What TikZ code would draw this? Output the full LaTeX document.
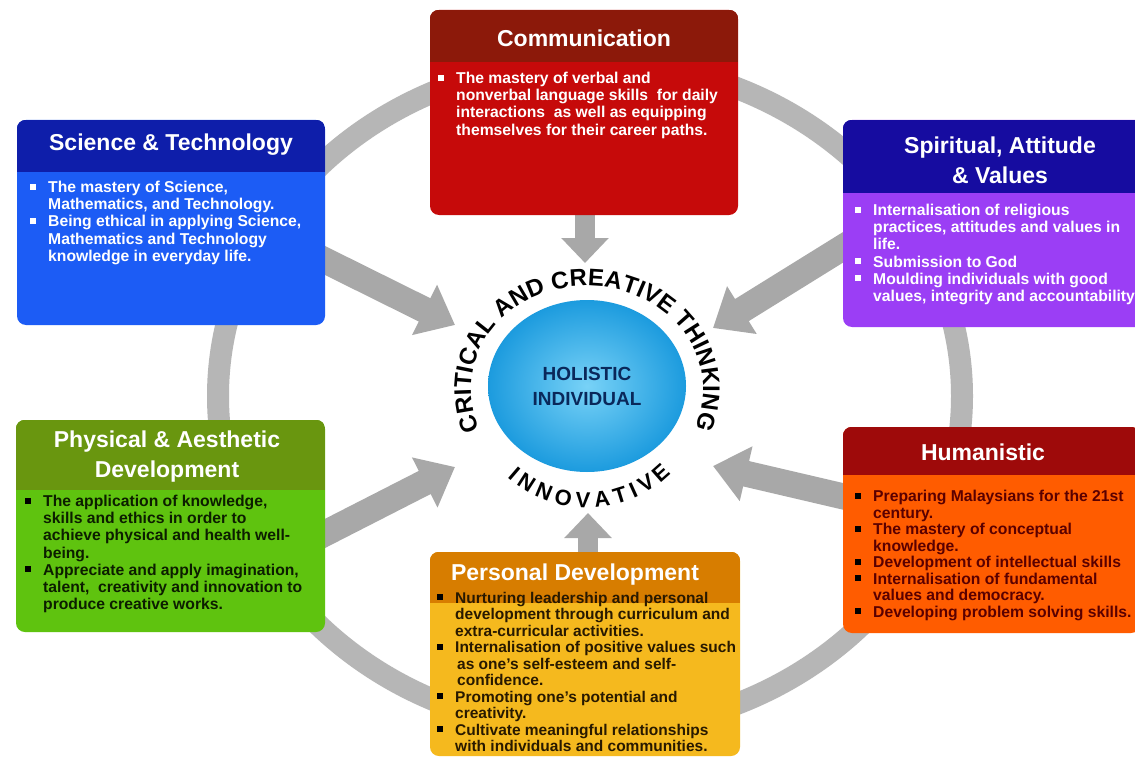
\documentclass[tikz,border=0pt]{standalone}
\usepackage{fontspec}
\setmainfont{Liberation Sans}
\usetikzlibrary{arrows.meta,shapes.geometric,decorations.text,calc}

\definecolor{sciHead}{RGB}{14,30,170}
\definecolor{sciBody}{RGB}{28,92,245}
\definecolor{comHead}{RGB}{140,25,10}
\definecolor{comBody}{RGB}{198,10,10}
\definecolor{spiHead}{RGB}{22,12,160}
\definecolor{spiBody}{RGB}{155,62,245}
\definecolor{phyHead}{RGB}{105,150,15}
\definecolor{phyBody}{RGB}{95,195,15}
\definecolor{humHead}{RGB}{158,10,10}
\definecolor{humBody}{RGB}{255,92,0}
\definecolor{perHead}{RGB}{215,125,0}
\definecolor{perBody}{RGB}{245,185,30}
\definecolor{phyText}{RGB}{12,30,0}
\definecolor{humText}{RGB}{90,0,0}
\definecolor{perText}{RGB}{40,25,0}
\definecolor{ringGrey}{RGB}{182,182,182}
\definecolor{arrGrey}{RGB}{168,168,168}
\definecolor{holIn}{RGB}{120,210,247}
\definecolor{holOut}{RGB}{28,155,222}
\definecolor{holText}{RGB}{10,40,90}

\newcommand\bulW{\makebox[18pt][l]{\raisebox{3pt}{\rule{6pt}{6pt}}}}
\newcommand\bulK{\makebox[18pt][l]{\color{black}\raisebox{3pt}{\rule{6pt}{6pt}}}}
\newcommand\hind{\hspace*{18pt}}
\newcommand\boxhead[3]{\begin{scope}\clip[rounded corners=9pt] (#1.north west) rectangle (#1.south east);
  \fill[#2] (#1.north west) rectangle ([yshift=-#3pt]#1.north east);\end{scope}}

\begin{document}
\begin{tikzpicture}[x=1pt,y=1pt,
  panel/.style={rectangle, rounded corners=9pt, inner sep=0pt, draw=none},
  ttl/.style={text=white, font=\bfseries\fontsize{23}{30}\selectfont, align=center, inner sep=0pt},
  bod/.style={anchor=north west, align=left, inner sep=0pt, font=\bfseries\fontsize{15.7}{17.2}\selectfont},
  bigarrow/.style={draw=arrGrey, line width=26pt, -{Triangle[width=54pt,length=34pt]}},
  smallarrow/.style={draw=arrGrey, line width=20pt, -{Triangle[width=46pt,length=25pt]}}]
\fill[white] (0,0) rectangle (1135,-757);
\useasboundingbox (0,0) rectangle (1135,-757);

% ring
\draw[ringGrey, line width=22pt] (590,-396) ellipse [x radius=372, y radius=335];

% arrow end points
\coordinate (sciS) at (318,-257); \coordinate (sciE) at (455,-325);
\coordinate (spiS) at (850,-243); \coordinate (spiE) at (713,-328);
\coordinate (phyS) at (318,-537); \coordinate (phyE) at (455,-467);
\coordinate (humS) at (850,-498); \coordinate (humE) at (713,-466);
\coordinate (comS) at (585,-205); \coordinate (comE) at (585,-263);
\coordinate (perS) at (588,-560); \coordinate (perE) at (588,-513);

\draw[bigarrow] (sciS) -- (sciE);
\draw[bigarrow] (spiS) -- (spiE);
\draw[bigarrow] (phyS) -- (phyE);
\draw[bigarrow] (humS) -- (humE);
\draw[smallarrow] (comS) -- (comE);
\draw[smallarrow] (perS) -- (perE);

% boxes
\node[panel, fill=sciBody, minimum width=308pt, minimum height=205pt] (sci) at (171,-222.5) {};
\boxhead{sci}{sciHead}{52}
\node[panel, fill=comBody, minimum width=308pt, minimum height=205pt] (com) at (584,-112.5) {};
\boxhead{com}{comHead}{52}
\node[panel, fill=spiBody, minimum width=317pt, minimum height=207pt] (spi) at (1001.5,-223.5) {};
\boxhead{spi}{spiHead}{73}
\node[panel, fill=phyBody, minimum width=309pt, minimum height=212pt] (phy) at (170.5,-526) {};
\boxhead{phy}{phyHead}{70}
\node[panel, fill=humBody, minimum width=297pt, minimum height=206pt] (hum) at (991.5,-530) {};
\boxhead{hum}{humHead}{48}
\node[panel, fill=perBody, minimum width=310pt, minimum height=204pt] (per) at (585,-654) {};
\boxhead{per}{perHead}{51}

% titles
\node[ttl] (sciT) at (171,-145) {Science \& Technology};
\node[ttl] (comT) at (584,-38) {Communication};
\node[ttl] (spiT) at (1000,-160) {Spiritual, Attitude\\\& Values};
\node[ttl] (phyT) at (167,-457) {Physical \& Aesthetic\\Development};
\node[ttl] (humT) at (983,-452) {Humanistic};
\node[ttl] (perT) at (575,-575) {Personal Development};

% bodies
\node[bod, text=white] (sciB) at (30,-181) {%
\bulW The mastery of Science,\\
\hind Mathematics, and Technology.\\
\bulW Being ethical in applying Science,\\
\hind Mathematics and Technology\\
\hind knowledge in everyday life.};

\node[bod, text=white] (comB) at (438,-72) {%
\bulW The mastery of verbal and\\
\hind nonverbal language skills~ for daily\\
\hind interactions~ as well as equipping\\
\hind themselves for their career paths.};

\node[bod, text=white] (spiB) at (855,-204) {%
\bulW Internalisation of religious\\
\hind practices, attitudes and values in\\
\hind life.\\
\bulW Submission to God\\
\bulW Moulding individuals with good\\
\hind values, integrity and accountability};

\node[bod, text=phyText] (phyB) at (25,-495) {%
\bulK The application of knowledge,\\
\hind skills and ethics in order to\\
\hind achieve physical and health well-\\
\hind being.\\
\bulK Appreciate and apply imagination,\\
\hind talent,~ creativity and innovation to\\
\hind produce creative works.};

\node[bod, text=humText, font=\bfseries\fontsize{15.7}{16.5}\selectfont] (humB) at (855,-490) {%
\bulK Preparing Malaysians for the 21st\\
\hind century.\\
\bulK The mastery of conceptual\\
\hind knowledge.\\
\bulK Development of intellectual skills\\
\bulK Internalisation of fundamental\\
\hind values and democracy.\\
\bulK Developing problem solving skills.};

\node[bod, text=perText, font=\bfseries\fontsize{15.5}{16.5}\selectfont] (perB) at (437,-592) {%
\bulK Nurturing leadership and personal\\
\hind development through curriculum and\\
\hind extra-curricular activities.\\
\bulK Internalisation of positive values such\\
\hind\hspace*{2pt}as one's self-esteem and self-\\
\hind\hspace*{2pt}confidence.\\
\bulK Promoting one's potential and\\
\hind creativity.\\
\bulK Cultivate meaningful relationships\\
\hind with individuals and communities.};

% centre
\node[ellipse, minimum width=198pt, minimum height=172pt, inner color=holIn, outer color=holOut,
  text=holText, font=\bfseries\fontsize{19}{25}\selectfont, align=center] (hol) at (587,-386) {HOLISTIC\\INDIVIDUAL};

\coordinate (arcC) at (587,-389);
\path[decorate, decoration={text along path, text align={fit to path},
  text={|\bfseries\fontsize{24}{24}\selectfont|CRITICAL AND CREATIVE THINKING}}]
  ($(arcC)+(203:116 and 103)$) arc[start angle=203, end angle=-22, x radius=116, y radius=103];
\path[decorate, decoration={text along path, text align={fit to path},
  text={|\bfseries\fontsize{22}{22}\selectfont|INNOVATIVE}}]
  ($(arcC)+(-132:119)$) arc[start angle=-132, end angle=-45, radius=119];
\end{tikzpicture}
\end{document}
